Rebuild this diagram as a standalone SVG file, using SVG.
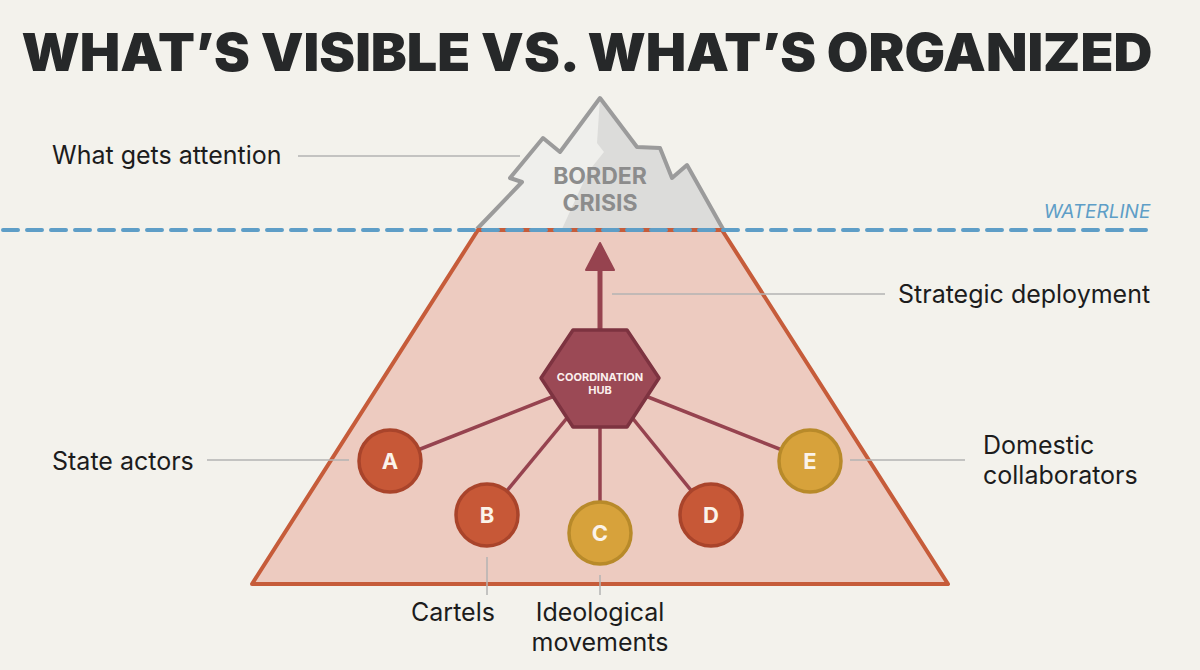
<svg xmlns="http://www.w3.org/2000/svg" width="1200" height="670" viewBox="0 0 1200 670">
<style>
.lbl{font-family:Inter,"Liberation Sans",sans-serif;font-size:25px;fill:#1c1c1c}
.lead{stroke:#b3b3b3;stroke-width:1.5;fill:none}
.edge{stroke:#96434f;stroke-width:3.5;fill:none}
.red{fill:#c75837;stroke:#a9442b;stroke-width:3.5}
.gold{fill:#d7a23b;stroke:#b88a2a;stroke-width:3.5}
.let{font-family:Inter,"Liberation Sans",sans-serif;font-size:22px;font-weight:700;fill:#fbf3ea;text-anchor:middle}
</style>
<rect width="1200" height="670" fill="#f3f2ec"/>
<text x="587" y="71" text-anchor="middle" textLength="1131" lengthAdjust="spacingAndGlyphs" font-family="Inter,'Liberation Sans',sans-serif" font-size="52" font-weight="900" fill="#262829">WHAT’S VISIBLE VS. WHAT’S ORGANIZED</text>

<g id="mountain">
<polygon points="600,98 560,152 543,138 510,178 522,182 477,229 723,229 687,165 672,178 660,148 637,147" fill="#efefec"/>
<polygon points="600,98 597,143 604,152 588,172 562,229 723,229 687,165 672,178 660,148 637,147" fill="#dcdcda"/>
<polyline points="477,229 522,182 510,178 543,138 560,152 600,98 637,147 660,148 672,178 687,165 723,229" fill="none" stroke="#9b9b9b" stroke-width="4" stroke-linejoin="round"/>
<text x="600" y="184" text-anchor="middle" font-family="Inter,'Liberation Sans',sans-serif" font-size="23" font-weight="700" fill="#8c8c8c">BORDER</text>
<text x="600" y="211" text-anchor="middle" font-family="Inter,'Liberation Sans',sans-serif" font-size="23" font-weight="700" fill="#8c8c8c">CRISIS</text>
</g>

<g id="pyramid">
<polygon points="478,230 722,230 948,584 252,584" fill="#edcbc0" stroke="#c65c3a" stroke-width="4" stroke-linejoin="round"/>
</g>

<g id="waterline">
<line x1="3" y1="230" x2="1152" y2="230" stroke="#5e9ec7" stroke-width="4" stroke-dasharray="15 9" stroke-linecap="round"/>
<text x="1097" y="218" text-anchor="middle" font-family="Inter,'Liberation Sans',sans-serif" font-size="19" font-style="italic" fill="#5e9ec7">WATERLINE</text>
</g>

<g id="connectors">
<line class="edge" x1="600" y1="378" x2="390" y2="461"/>
<line class="edge" x1="600" y1="378" x2="487" y2="515"/>
<line class="edge" x1="600" y1="378" x2="600" y2="533"/>
<line class="edge" x1="600" y1="378" x2="711" y2="515"/>
<line class="edge" x1="600" y1="378" x2="810" y2="461"/>
<line x1="600" y1="332" x2="600" y2="266" stroke="#96434f" stroke-width="5"/>
<polygon points="600,243 614,270 586,270" fill="#96434f" stroke="#96434f" stroke-width="2" stroke-linejoin="round"/>
<line class="lead" x1="298" y1="156" x2="520" y2="156"/>
<line class="lead" x1="612" y1="294" x2="885" y2="294"/>
<line class="lead" x1="207" y1="460" x2="349" y2="460"/>
<line class="lead" x1="850" y1="460" x2="965" y2="460"/>
<line class="lead" x1="487" y1="557" x2="487" y2="595"/>
<line class="lead" x1="600" y1="575" x2="600" y2="595"/>
</g>

<g id="hub">
<polygon points="541,378 573,330 627,330 659,378 627,427 573,427" fill="#9b4955" stroke="#7d3340" stroke-width="3.5" stroke-linejoin="round"/>
<text x="600" y="381" text-anchor="middle" font-family="Inter,'Liberation Sans',sans-serif" font-size="11" font-weight="700" fill="#fbf0ee">COORDINATION</text>
<text x="600" y="394" text-anchor="middle" font-family="Inter,'Liberation Sans',sans-serif" font-size="11" font-weight="700" fill="#fbf0ee">HUB</text>
</g>

<g id="nodeA"><circle class="red" cx="390" cy="461" r="31"/><text class="let" x="390" y="469">A</text></g>
<g id="nodeB"><circle class="red" cx="487" cy="515" r="31"/><text class="let" x="487" y="523">B</text></g>
<g id="nodeC"><circle class="gold" cx="600" cy="533" r="31"/><text class="let" x="600" y="541">C</text></g>
<g id="nodeD"><circle class="red" cx="711" cy="515" r="31"/><text class="let" x="711" y="523">D</text></g>
<g id="nodeE"><circle class="gold" cx="810" cy="461" r="31"/><text class="let" x="810" y="469">E</text></g>

<g id="labels">
<text class="lbl" x="52" y="164">What gets attention</text>
<text class="lbl" x="898" y="303">Strategic deployment</text>
<text class="lbl" x="52" y="470">State actors</text>
<text class="lbl" x="983" y="454">Domestic</text>
<text class="lbl" x="983" y="484">collaborators</text>
<text class="lbl" x="453" y="621" text-anchor="middle">Cartels</text>
<text class="lbl" x="600" y="621" text-anchor="middle">Ideological</text>
<text class="lbl" x="600" y="651" text-anchor="middle">movements</text>
</g>
</svg>
